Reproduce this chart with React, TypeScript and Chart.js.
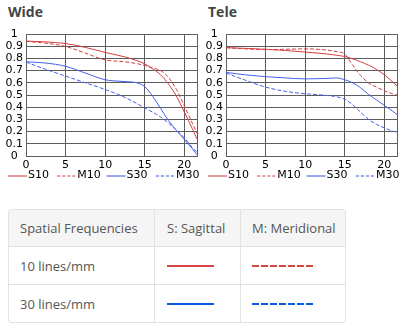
import React, { useEffect, useRef } from "react";
import { Chart, registerables } from "chart.js";

Chart.register(...registerables);

// Image height positions (mm)
const POSITIONS = [0, 2.5, 5, 7.5, 10, 12.5, 14, 15, 16, 17, 18, 19, 20, 21, 21.6];

const WIDE_S10 = [0.942, 0.935, 0.922, 0.89, 0.849, 0.812, 0.782, 0.755, 0.715, 0.665, 0.59, 0.49, 0.36, 0.225, 0.14];
const WIDE_M10 = [0.94, 0.925, 0.898, 0.843, 0.788, 0.772, 0.757, 0.742, 0.722, 0.7, 0.645, 0.545, 0.41, 0.27, 0.185];
const WIDE_S30 = [0.772, 0.762, 0.735, 0.68, 0.625, 0.61, 0.6, 0.568, 0.49, 0.39, 0.29, 0.21, 0.135, 0.06, 0.01];
const WIDE_M30 = [0.77, 0.71, 0.655, 0.6, 0.545, 0.48, 0.43, 0.393, 0.36, 0.32, 0.27, 0.21, 0.15, 0.07, 0.03];

const TELE_S10 = [0.888, 0.882, 0.875, 0.865, 0.852, 0.838, 0.826, 0.815, 0.797, 0.772, 0.745, 0.71, 0.665, 0.61, 0.575];
const TELE_M10 = [0.888, 0.878, 0.872, 0.875, 0.878, 0.87, 0.855, 0.835, 0.745, 0.66, 0.6, 0.565, 0.535, 0.51, 0.5];
const TELE_S30 = [0.685, 0.665, 0.65, 0.64, 0.632, 0.635, 0.64, 0.625, 0.6, 0.56, 0.505, 0.46, 0.415, 0.37, 0.34];
const TELE_M30 = [0.68, 0.62, 0.565, 0.53, 0.51, 0.498, 0.485, 0.465, 0.42, 0.36, 0.3, 0.26, 0.23, 0.205, 0.195];

const SERIES_LABELS = ["S10", "M10", "S30", "M30"];
const CHART_TITLES = ["Wide", "Tele"];

const TABLE_HEAD = ["Spatial Frequencies", "S: Sagittal", "M: Meridional"];
const TABLE_ROWS = ["10 lines/mm", "30 lines/mm"];

const RED = "rgb(212,62,62)";
const BLUE = "rgb(70,95,236)";
const LEG_RED = "rgb(208,58,58)";
const LEG_BLUE = "rgb(40,80,230)";
const T_RED = "rgb(214,70,66)";
const T_BLUE = "rgb(10,92,232)";
const GRID = "#5c5c5c";
const TICK_FONT = { family: "DejaVu Sans", size: 11 };

const legendPlugin = {
  id: "mtfLegend",
  afterDraw(chart: any, _args: any, opts: any) {
    const ctx = chart.ctx;
    ctx.save();
    ctx.font = "11px 'DejaVu Sans'";
    ctx.textBaseline = "middle";
    ctx.textAlign = "left";
    chart.data.datasets.forEach((ds: any, i: number) => {
      const x = opts.left + i * opts.step;
      ctx.strokeStyle = opts.colors[i];
      ctx.lineWidth = 1;
      ctx.setLineDash(ds.borderDash && ds.borderDash.length ? [3, 2] : []);
      ctx.beginPath();
      ctx.moveTo(x, opts.y + 0.5);
      ctx.lineTo(x + opts.len, opts.y + 0.5);
      ctx.stroke();
      ctx.setLineDash([]);
      ctx.fillStyle = "#000";
      ctx.fillText(ds.label, x + opts.len + 1, opts.y);
    });
    ctx.restore();
  },
};

const framePlugin = {
  id: "frame",
  beforeDatasetsDraw(chart: any) {
    const { ctx, chartArea } = chart;
    ctx.save();
    ctx.strokeStyle = GRID;
    ctx.lineWidth = 1;
    const x = Math.round(chartArea.right - 0.5) + 0.5;
    ctx.beginPath();
    ctx.moveTo(x, chartArea.top);
    ctx.lineTo(x, chartArea.bottom);
    ctx.stroke();
    ctx.restore();
  },
};

function MtfChart({ series, width, height, rightPad }: { series: number[][]; width: number; height: number; rightPad: number }) {
  const ref = useRef<HTMLCanvasElement>(null);
  useEffect(() => {
    const colors = [RED, RED, BLUE, BLUE];
    const dashed = [false, true, false, true];
    const chart = new Chart(ref.current as HTMLCanvasElement, {
      type: "line",
      data: {
        datasets: series.map((vals, i) => ({
          label: SERIES_LABELS[i],
          data: POSITIONS.map((x, j) => ({ x, y: vals[j] })),
          borderColor: colors[i],
          borderWidth: 1,
          borderDash: dashed[i] ? [4, 2] : [],
          pointRadius: 0,
          fill: false,
          tension: 0.4,
          cubicInterpolationMode: "monotone",
        })),
      },
      options: {
        animation: false,
        responsive: false,
        devicePixelRatio: 1,
        layout: { padding: { top: 34, right: rightPad, bottom: 15, left: 0 } },
        plugins: {
          legend: { display: false },
          tooltip: { enabled: false },
          title: { display: false },
          mtfLegend: { left: 8, step: 49.3, y: 175.5, len: 19, colors: [LEG_RED, LEG_RED, LEG_BLUE, LEG_BLUE] },
        } as any,
        scales: {
          x: {
            type: "linear",
            min: 0,
            max: 21.6,
            grid: { color: GRID, lineWidth: 1, drawTicks: false },
            border: { color: GRID, width: 1 },
            ticks: {
              stepSize: 5,
              includeBounds: false,
              color: "#000",
              font: TICK_FONT,
              padding: 3,
              maxRotation: 0,
              autoSkip: false,
              callback: (v: any) => String(v),
            },
            afterFit: (s: any) => {
              s.height = 14;
            },
          },
          y: {
            type: "linear",
            min: 0,
            max: 1,
            grid: { color: GRID, lineWidth: 1, drawTicks: false },
            border: { color: GRID, width: 1 },
            ticks: {
              stepSize: 0.1,
              color: "#000",
              font: TICK_FONT,
              padding: 3,
              crossAlign: "center",
              autoSkip: false,
              callback: (v: any) => String(Math.round(Number(v) * 10) / 10),
            },
            afterFit: (s: any) => {
              s.width = 26;
            },
          },
        },
      },
      plugins: [legendPlugin, framePlugin],
    } as any);
    return () => chart.destroy();
  }, []);
  return <canvas ref={ref} width={width} height={height} style={{ display: "block", width, height }} />;
}

function LineSample({ color, dashed }: { color: string; dashed: boolean }) {
  const style: React.CSSProperties = dashed
    ? {
        width: 61,
        height: 2,
        background: `repeating-linear-gradient(to right, ${color} 0px, ${color} 7px, transparent 7px, transparent 9px)`,
      }
    : { width: 47, height: 2, background: color };
  return <div style={style} />;
}

export default function App() {
  const colW = [145, 85, 104];
  const pads = [11, 12, 11];
  const cellBase = (c: number, last: boolean): React.CSSProperties => ({
    width: colW[c],
    boxSizing: "content-box",
    borderRight: last ? "none" : "1px solid #e2e2e2",
    display: "flex",
    alignItems: "center",
    paddingLeft: pads[c] ? 0 : 0,
  });
  const rowColors = [T_RED, T_BLUE];
  return (
    <div style={{ position: "absolute", left: 0, top: 0, width: 404, height: 330, background: "#fff", overflow: "hidden" }}>
      {CHART_TITLES.map((t, i) => (
        <div
          key={t}
          style={{
            position: "absolute",
            left: i === 0 ? 8 : 208,
            top: 2,
            font: "bold 14px/19px 'Open Sans'",
            color: "#444",
          }}
        >
          {t}
        </div>
      ))}
      <div style={{ position: "absolute", left: 0, top: 0 }}>
        <MtfChart series={[WIDE_S10, WIDE_M10, WIDE_S30, WIDE_M30]} width={200} height={185} rightPad={3} />
      </div>
      <div style={{ position: "absolute", left: 200, top: 0 }}>
        <MtfChart series={[TELE_S10, TELE_M10, TELE_S30, TELE_M30]} width={204} height={185} rightPad={7} />
      </div>
      <div
        style={{
          position: "absolute",
          left: 8,
          top: 209,
          width: 338,
          height: 114,
          boxSizing: "border-box",
          border: "1px solid #e2e2e2",
          borderRadius: 3,
          overflow: "hidden",
          font: "13px 'Open Sans'",
          color: "#555",
        }}
      >
        <div style={{ display: "flex", height: 36, background: "#f5f5f5", borderBottom: "1px solid #e2e2e2" }}>
          {TABLE_HEAD.map((h, c) => (
            <div key={h} style={{ ...cellBase(c, c === 2) }}>
              <span style={{ paddingLeft: pads[c] }}>{h}</span>
            </div>
          ))}
        </div>
        {TABLE_ROWS.map((r, ri) => (
          <div
            key={r}
            style={{ display: "flex", height: 37, borderBottom: ri === 0 ? "1px solid #e2e2e2" : "none" }}
          >
            <div style={cellBase(0, false)}>
              <span style={{ paddingLeft: pads[0] }}>{r}</span>
            </div>
            <div style={cellBase(1, false)}>
              <div style={{ paddingLeft: 12 }}>
                <LineSample color={rowColors[ri]} dashed={false} />
              </div>
            </div>
            <div style={cellBase(2, true)}>
              <div style={{ paddingLeft: 11 }}>
                <LineSample color={rowColors[ri]} dashed={true} />
              </div>
            </div>
          </div>
        ))}
      </div>
    </div>
  );
}
